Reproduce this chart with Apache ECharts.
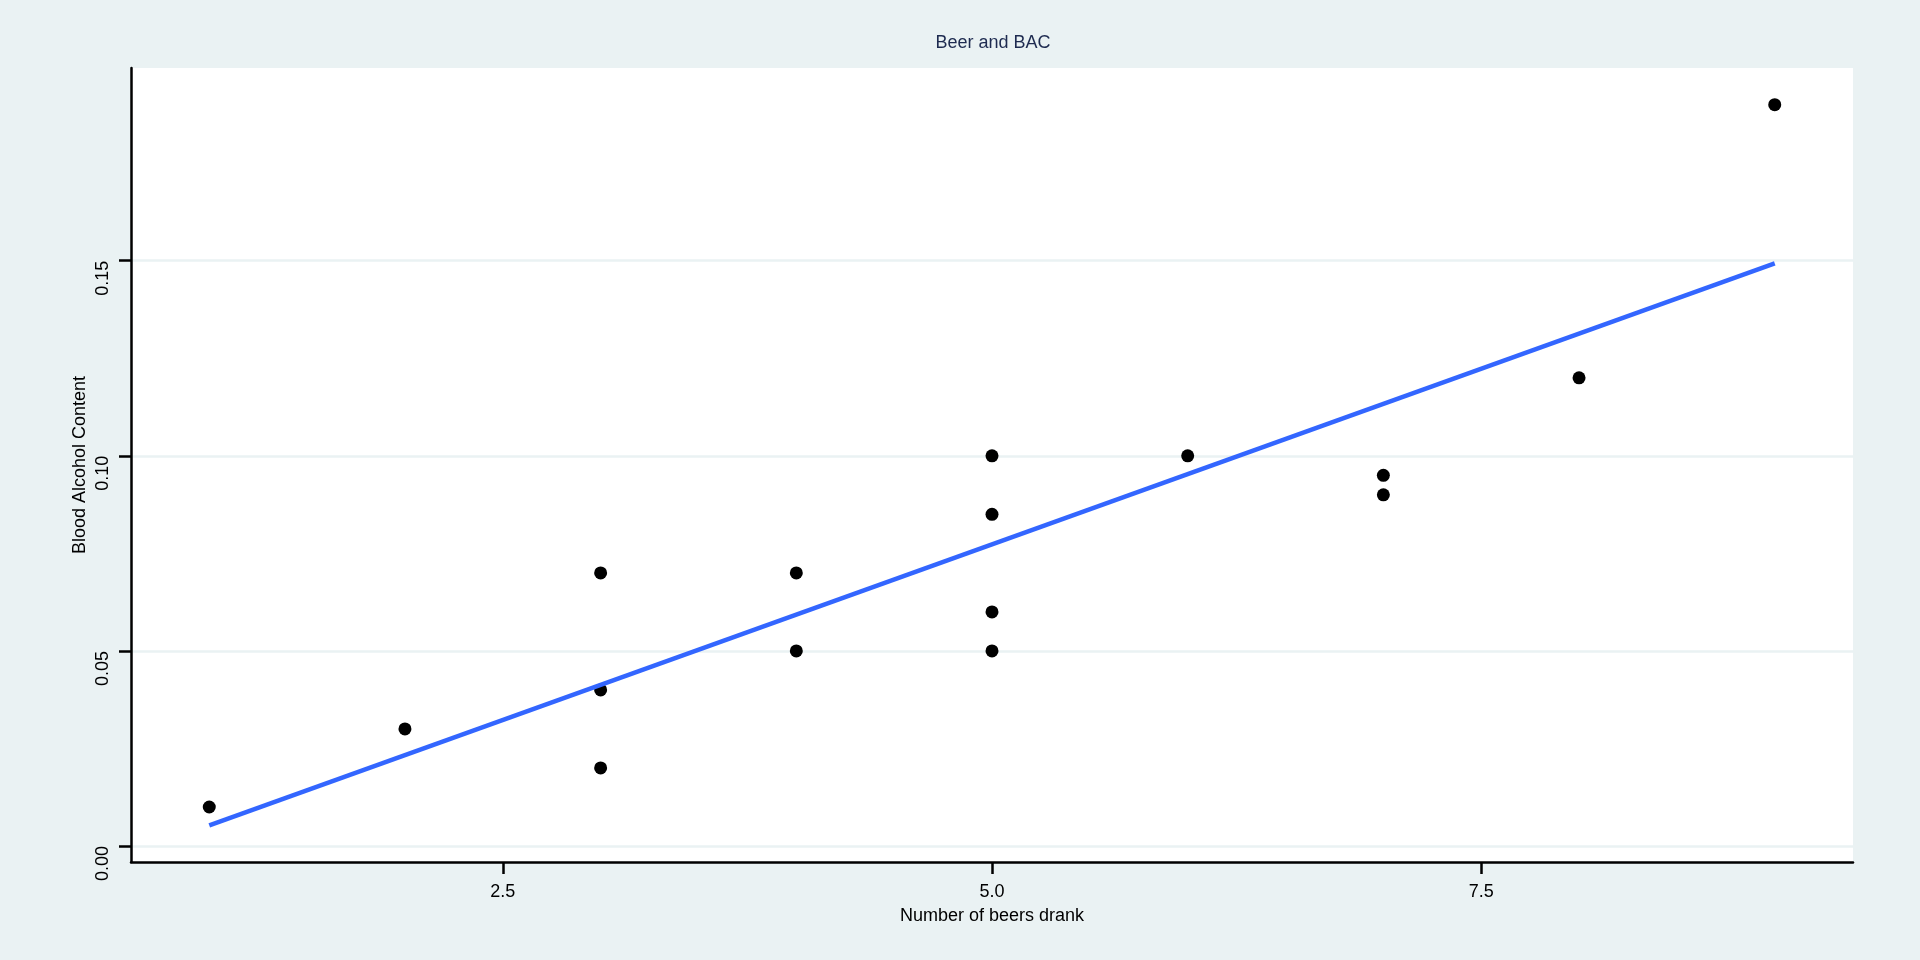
<!DOCTYPE html>
<html>
<head>
<meta charset="utf-8">
<script src="https://cdn.jsdelivr.net/npm/echarts@6/dist/echarts.min.js"></script>
<style>
  html, body { margin: 0; padding: 0; background: #EAF2F3; }
  #chart { width: 1920px; height: 960px; }
</style>
</head>
<body>
<div id="chart"></div>
<script>
// Data: number of beers and blood alcohol content (16 students)
const beers = [5, 2, 9, 8, 3, 7, 3, 5, 3, 5, 4, 6, 5, 7, 1, 4];
const bac   = [0.100, 0.030, 0.190, 0.120, 0.040, 0.095, 0.070, 0.060, 0.020, 0.050, 0.070, 0.100, 0.085, 0.090, 0.010, 0.050];
// Fitted line endpoints
const fitX = [1, 9];
const fitY = [0.0053, 0.1493];
// Tick values
const xTicks = [2.5, 5.0, 7.5];
const yTicks = [0.00, 0.05, 0.10, 0.15];
const xRange = [0.6, 9.4];
const yRange = [-0.0041, 0.1994];

const FONT = 'Liberation Sans, Arial, Helvetica, sans-serif';

const points = beers.map((b, i) => [b, bac[i]]);
const fitLine = fitX.map((x, i) => [x, fitY[i]]);

const chart = echarts.init(document.getElementById('chart'), null, { renderer: 'canvas' });
chart.setOption({
  backgroundColor: '#EAF2F3',
  animation: false,
  title: {
    text: 'Beer and BAC',
    left: 988,
    textAlign: 'center',
    top: 29,
    textStyle: { fontFamily: FONT, fontSize: 18, fontWeight: 'normal', color: '#1E2B50' }
  },
  grid: {
    left: 131, right: 67, top: 68, bottom: 98,
    show: true, backgroundColor: '#FFFFFF', borderWidth: 0
  },
  xAxis: {
    type: 'value',
    min: xRange[0], max: xRange[1],
    name: 'Number of beers drank',
    nameLocation: 'middle',
    nameGap: 45,
    nameTextStyle: { fontFamily: FONT, fontSize: 18, color: '#000000', verticalAlign: 'top' },
    axisLine: { show: true, onZero: false, lineStyle: { color: '#000000', width: 2.5 } },
    axisTick: { show: true, length: 12, lineStyle: { color: '#000000', width: 2.5 }, customValues: xTicks },
    axisLabel: {
      fontFamily: FONT, fontSize: 18, color: '#000000', margin: 21,
      customValues: xTicks,
      formatter: v => Number(v).toFixed(1)
    },
    splitLine: { show: false }
  },
  yAxis: {
    type: 'value',
    min: yRange[0], max: yRange[1],
    name: 'Blood Alcohol Content',
    nameLocation: 'middle',
    nameRotate: 90,
    nameGap: 42,
    nameMoveOverlap: false,
    nameTextStyle: { fontFamily: FONT, fontSize: 18, color: '#000000', verticalAlign: 'bottom' },
    axisLine: { show: true, onZero: false, lineStyle: { color: '#000000', width: 2.5 } },
    axisTick: { show: true, length: 12, lineStyle: { color: '#000000', width: 2.5 }, customValues: yTicks },
    axisLabel: {
      fontFamily: FONT, fontSize: 18, color: '#000000', margin: 19,
      rotate: 90,
      align: 'right',
      verticalAlign: 'bottom',
      customValues: yTicks,
      formatter: v => Number(v).toFixed(2)
    },
    splitLine: { show: true, lineStyle: { color: '#EAF2F3', width: 2.5 }, customValues: yTicks }
  },
  series: [
    {
      type: 'scatter',
      data: points,
      symbol: 'circle',
      symbolSize: 13,
      itemStyle: { color: '#000000', opacity: 1 },
      z: 2
    },
    {
      type: 'line',
      data: fitLine,
      showSymbol: false,
      symbol: 'none',
      lineStyle: { color: '#3366FF', width: 4.5, cap: 'butt' },
      z: 3
    }
  ]
});
</script>
</body>
</html>
